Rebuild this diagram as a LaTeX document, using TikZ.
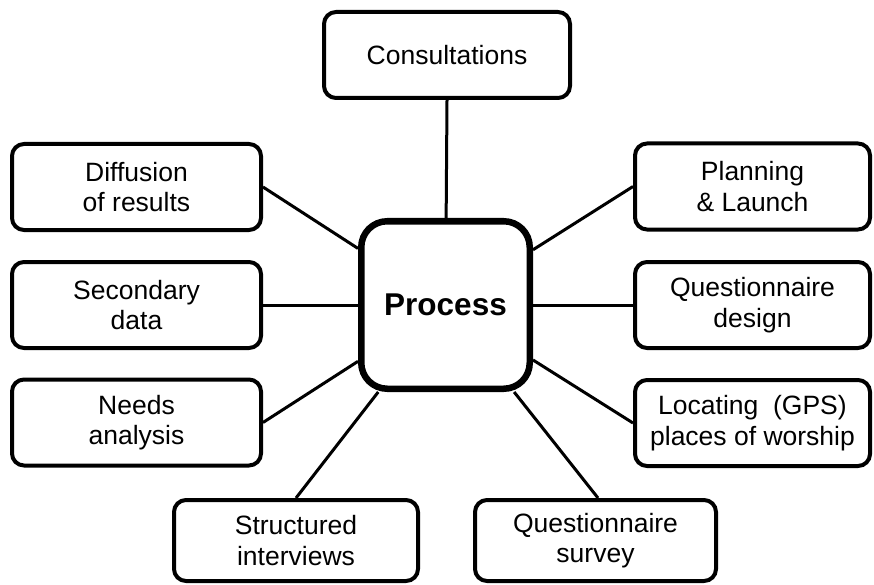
\documentclass[tikz,border=0pt]{standalone}
\usepackage{fontspec}
\setmainfont{Liberation Sans}
\begin{document}
\begin{tikzpicture}[x=1pt,y=-1pt,
  box/.style={draw, line width=4pt, rounded corners=12pt, align=center,
    font=\fontsize{26.5}{30.5}\selectfont, inner sep=0pt,
    minimum width=#1, minimum height=86pt},
  box/.default=249pt,
  proc/.style={draw, line width=6.5pt, rounded corners=26pt, align=center,
    font=\fontsize{31.5}{36}\selectfont\bfseries, inner sep=0pt,
    minimum width=168.5pt, minimum height=167.5pt},
  link/.style={line width=3pt}]
\useasboundingbox (0,0) rectangle (874,585);
\node[proc] (proc) at (445.5,305) {Process};
\node[box=246pt] (cons) at (447,55) {Consultations};
\node[box] (diff) at (136.5,187) {Diffusion\\of results};
\node[box] (sec) at (136.5,305) {Secondary\\data};
\node[box] (needs) at (136.5,422.5) {Needs\\analysis};
\node[box=235pt] (plan) at (752.5,186.5) {Planning\\\& Launch};
\node[box=235pt] (qdes) at (752.5,305) {Questionnaire\\design};
\node[box=235pt] (loc) at (752.5,423) {Locating~ (GPS)\\places of worship};
\node[box=244pt, minimum height=81pt] (sint) at (296,540.5) {Structured\\interviews};
\node[box=241pt, minimum height=81pt] (qsur) at (595.5,540.5) {Questionnaire\\survey};
\draw[link] (cons.south) -- (proc);
\draw[link] (diff.east) -- (proc);
\draw[link] (sec.east) -- (proc);
\draw[link] (needs.east) -- (proc);
\draw[link] (plan.west) -- (proc);
\draw[link] (qdes.west) -- (proc);
\draw[link] (loc.west) -- (proc);
\draw[link] (sint.north) -- (proc);
\draw[link] ([xshift=2.5pt]qsur.north) -- (proc);
\end{tikzpicture}
\end{document}
